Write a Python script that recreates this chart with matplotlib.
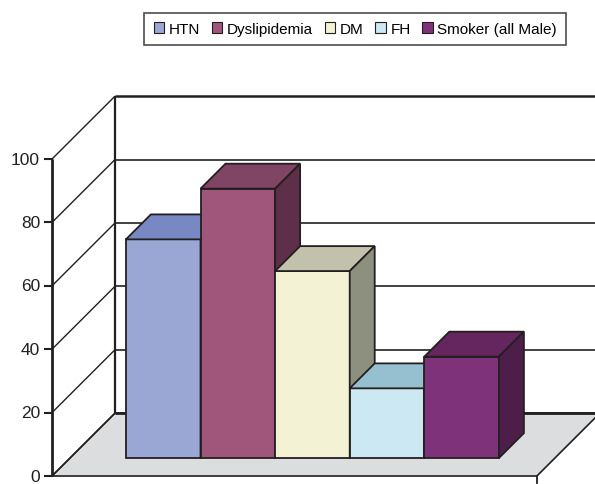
import matplotlib.pyplot as plt
from matplotlib.patches import Polygon, Patch

plt.rcParams['font.family'] = ['Liberation Sans', 'DejaVu Sans']

series = ['HTN', 'Dyslipidemia', 'DM', 'FH', 'Smoker (all Male)']
values = [69, 85, 59, 22, 32]
front_colors = ['#9aa6d3', '#a0567a', '#f3f2d5', '#cce8f3', '#7e327a']
top_colors = ['#7888c2', '#804564', '#c2c1ab', '#96c0cf', '#652660']
side_colors = ['#5a6699', '#5e2f48', '#8e907f', '#7aa0ae', '#4e1e4a']
yticks = [0, 20, 40, 60, 80, 100]

# oblique projection: depth z (in bar widths) shifts right by z and up by z*DY
DY = 23.5
DEPTH = 0.845
BAR_Z0, BAR_Z1 = 0.241, 0.576
GAP = 0.75
WIDTH = GAP * 2 + len(series)
EDGE = '#231f20'


def p(u, v, z):
    return (u + z, v + z * DY)


def face(ax, pts, color, lw=1.3, z=2):
    ax.add_patch(Polygon([p(*q) for q in pts], closed=True, facecolor=color,
                         edgecolor=EDGE, linewidth=lw, joinstyle='miter', zorder=z))


def line(ax, a, b, lw=1.2, color=EDGE, z=1):
    (x0, y0), (x1, y1) = p(*a), p(*b)
    ax.plot([x0, x1], [y0, y1], color=color, lw=lw, zorder=z, solid_capstyle='butt')


fig = plt.figure(figsize=(5.95, 4.85), dpi=100)
ax = fig.add_axes([0, 0, 1, 1])
ax.set_xlim(-0.697, 7.279)
ax.set_ylim(-2.52, 150.5)
ax.axis('off')

# floor
face(ax, [(0, 0, 0), (WIDTH, 0, 0), (WIDTH, 0, DEPTH), (0, 0, DEPTH)], '#dcdddf', lw=1.2, z=0.5)

# walls and gridlines
for t in yticks:
    line(ax, (0, t, 0), (0, t, DEPTH), lw=1.0)
    if t > 0:
        line(ax, (0, t, DEPTH), (WIDTH, t, DEPTH), lw=1.8 if t == 100 else 1.3,
             color=EDGE if t == 100 else '#333333')
line(ax, (0, 0, DEPTH), (WIDTH, 0, DEPTH), lw=2.0)
line(ax, (0, 0, DEPTH), (0, 100, DEPTH), lw=1.6)
line(ax, (0, 0, 0), (0, 100, 0), lw=2.0, z=3)

# y ticks and labels
for t in yticks:
    x, y = p(0, t, 0)
    ax.plot([x - 0.09, x], [y, y], color=EDGE, lw=1.5, zorder=3)
    ax.text(x - 0.16, y, str(t), ha='right', va='center', fontsize=12.5, color='#231f20')
ax.plot([WIDTH, WIDTH], [0, -2.3], color=EDGE, lw=1.3, zorder=3)

# bars
for i, (val, fc, tc, sc) in enumerate(zip(values, front_colors, top_colors, side_colors)):
    u0, u1 = GAP + i, GAP + i + 1
    face(ax, [(u0, 0, BAR_Z0), (u1, 0, BAR_Z0), (u1, val, BAR_Z0), (u0, val, BAR_Z0)], fc, z=2 + i)
    face(ax, [(u0, val, BAR_Z0), (u1, val, BAR_Z0), (u1, val, BAR_Z1), (u0, val, BAR_Z1)], tc, z=2 + i)
    face(ax, [(u1, 0, BAR_Z0), (u1, 0, BAR_Z1), (u1, val, BAR_Z1), (u1, val, BAR_Z0)], sc, z=2 + i)

handles = [Patch(facecolor=c, edgecolor=EDGE, linewidth=0.8) for c in front_colors]
leg = ax.legend(handles, series, ncol=5, loc='upper center', bbox_to_anchor=(0.597, 0.972),
                frameon=True, fancybox=False, fontsize=11, handlelength=0.7,
                handleheight=0.7, handletextpad=0.3, columnspacing=0.75,
                borderpad=0.6, borderaxespad=0)
leg.get_frame().set_edgecolor(EDGE)
leg.get_frame().set_linewidth(1.2)

fig.savefig('out.png', dpi=100)
